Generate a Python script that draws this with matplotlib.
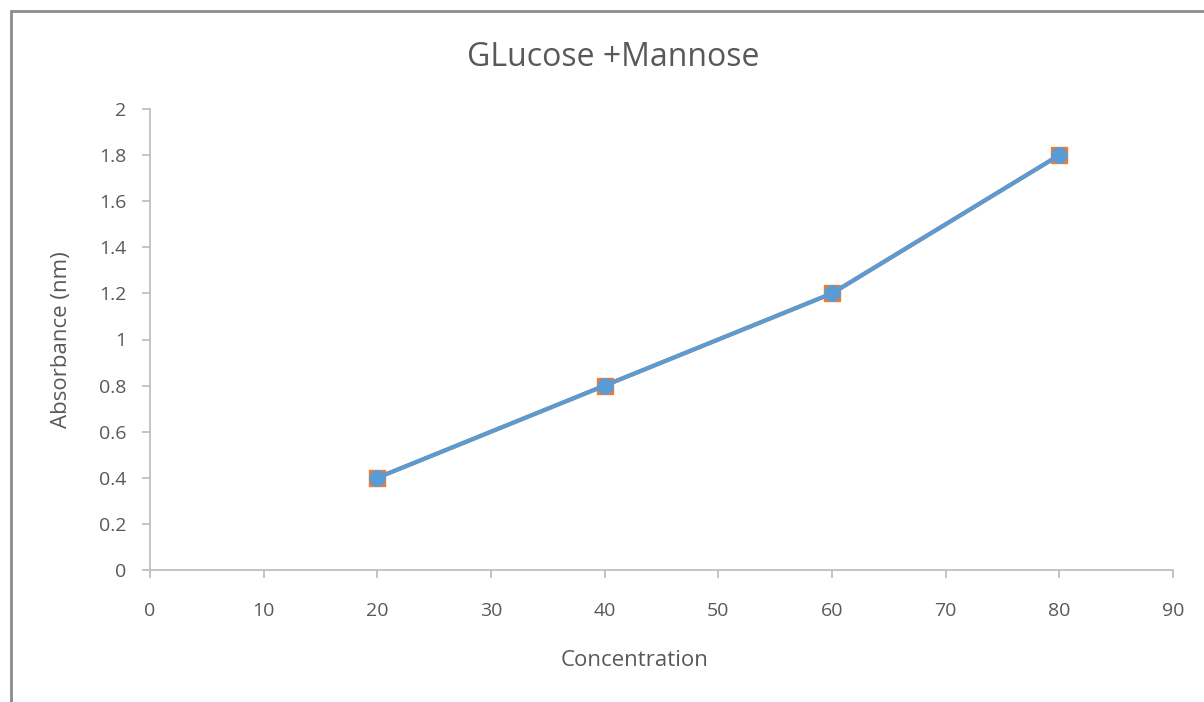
import matplotlib.pyplot as plt
from matplotlib.patches import Rectangle

# data
concentration = [20, 40, 60, 80]
absorbance_a = [0.4, 0.8, 1.2, 1.8]
absorbance_b = [0.4, 0.8, 1.2, 1.8]
x_ticks = list(range(0, 100, 10))
y_ticks = [0, 0.2, 0.4, 0.6, 0.8, 1, 1.2, 1.4, 1.6, 1.8, 2]
y_labels = ['0', '0.2', '0.4', '0.6', '0.8', '1', '1.2', '1.4', '1.6', '1.8', '2']

plt.rcParams['font.family'] = ['Open Sans', 'DejaVu Sans']
text_col = '#595959'
axis_col = '#bfbfbf'

fig = plt.figure(figsize=(12.04, 7.02), dpi=100)
W, H = 1204, 702
ax = fig.add_axes([150 / W, 1 - 570 / H, (1173 - 150) / W, (570 - 109) / H])

# outer chart frame (partly cropped)
fig.patches.append(Rectangle((11 / W, -0.1), 1.2, 1 - 11 / H + 0.1,
                             transform=fig.transFigure, fill=False,
                             edgecolor='#8c8c8c', linewidth=2))

ax.plot(concentration, absorbance_a, marker='s', color='#ed7d31', markersize=11.5,
        linewidth=3, zorder=3)
ax.plot(concentration, absorbance_b, marker='o', color='#5b9bd5', markersize=11,
        linewidth=3, zorder=4)

ax.set_xlim(0, 90)
ax.set_ylim(0, 2)
ax.set_xticks(x_ticks)
ax.set_yticks(y_ticks)
ax.set_yticklabels(y_labels)
for s in ['top', 'right']:
    ax.spines[s].set_visible(False)
for s in ['left', 'bottom']:
    ax.spines[s].set_color(axis_col)
    ax.spines[s].set_linewidth(1.3)
ax.tick_params(colors=axis_col, labelcolor=text_col, labelsize=14, length=6,
               width=1.3)
ax.tick_params(axis='x', pad=17)
ax.tick_params(axis='y', pad=11)

fig.text(613 / W, 1 - 57 / H, 'GLucose +Mannose', fontsize=23, color=text_col,
         ha='center', va='center')
fig.text(635 / W, 1 - 660 / H, 'Concentration', fontsize=16, color=text_col,
         ha='center', va='center')
fig.text(62 / W, 1 - 340 / H, 'Absorbance (nm)', fontsize=16, color=text_col,
         ha='center', va='center', rotation=90)

fig.savefig('out.png', dpi=100)
